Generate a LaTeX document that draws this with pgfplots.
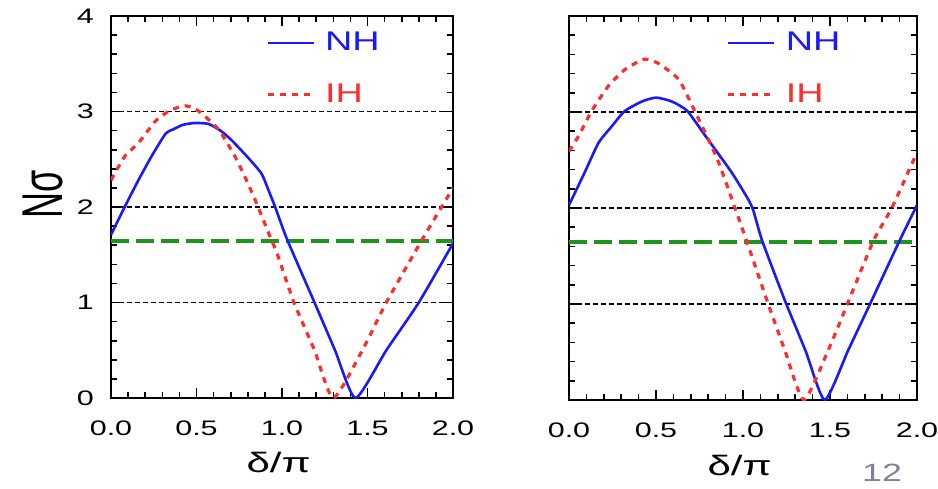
\documentclass[border=0pt]{standalone}
\usepackage{pgfplots}
\pgfplotsset{compat=1.18}
\usepackage{graphicx}
\usepackage{fontspec}
\setmainfont{Liberation Sans}
\definecolor{nhblue}{RGB}{25,25,255}
\definecolor{ihred}{RGB}{255,45,45}
\definecolor{cgreen}{RGB}{30,150,30}
\definecolor{slidegray}{RGB}{130,130,150}

\pgfplotstableread{
x y
0 1.71
0.08 2.0
0.16 2.28
0.24 2.54
0.32 2.77
0.36 2.81
0.42 2.86
0.49 2.88
0.57 2.87
0.64 2.80
0.705 2.70
0.80 2.52
0.88 2.35
0.92 2.18
0.96 2.0
1.03 1.66
1.19 1.0
1.31 0.5
1.43 0.0
1.61 0.5
1.80 1.0
2.0 1.62
}\leftNH

\pgfplotstableread{
x y
0 2.28
0.08 2.53
0.16 2.67
0.26 2.90
0.335 3.0
0.42 3.06
0.48 3.04
0.53 2.98
0.63 2.81
0.725 2.53
0.80 2.25
0.86 2.0
0.93 1.69
0.97 1.52
1.07 1.0
1.19 0.5
1.30 0.0
1.47 0.5
1.61 1.0
1.82 1.66
2.0 2.2
}\leftIH

\pgfplotstableread{
x y
0 2.03
0.09 2.37
0.17 2.68
0.25 2.86
0.32 3.01
0.42 3.11
0.50 3.15
0.59 3.11
0.68 3.01
0.80 2.71
0.935 2.37
1.03 2.09
1.06 1.97
1.11 1.66
1.24 1.04
1.36 0.51
1.47 0.0
1.605 0.52
1.73 1.0
1.90 1.66
2.0 2.03
}\rightNH

\pgfplotstableread{
x y
0 2.59
0.055 2.75
0.13 3.01
0.226 3.27
0.32 3.44
0.43 3.55
0.51 3.51
0.63 3.34
0.72 3.02
0.85 2.52
0.95 2.02
1.02 1.66
1.145 1.0
1.24 0.52
1.35 0.0
1.49 0.52
1.60 1.0
1.75 1.66
1.855 2.0
2.0 2.58
}\rightIH

\pgfplotsset{
  panel/.style={
    scale only axis, anchor=south west,
    xmin=0, xmax=2, ymin=0, ymax=4,
    xtick={0,0.5,1,1.5,2}, ytick={0,1,2,3,4},
    minor x tick num=4, minor y tick num=4,
    tick align=inside,
    major tick length=5pt, minor tick length=3pt,
    axis line style={line width=1pt},
    every tick/.append style={black, line width=0.8pt},
    ymajorgrids,
    major grid style={black, line width=0.75pt, dash pattern=on 2.5pt off 1.5pt},
    /pgf/number format/assume math mode=true,
    xticklabel={\scalebox{1.45}[1]{\pgfmathprintnumber[fixed,fixed zerofill,precision=1]{\tick}}},
    xticklabel style={font=\fontsize{10.5}{12}\selectfont, yshift=-8pt},
    yticklabel style={font=\fontsize{10.5}{12}\selectfont, xshift=-5pt},
    xlabel={\scalebox{1.5}[1]{δ/π}},
    xlabel style={font=\fontsize{14}{16}\selectfont, at={(axis description cs:0.49,-0.17)}, anchor=center},
    legend style={at={(axis description cs:0.452,0.969)}, anchor=north west, draw=none, fill=none,
      font=\fontsize{13.5}{15}\selectfont, row sep=11pt, inner sep=0pt},
    legend cell align=left,
    legend image code/.code={\draw[##1] (0pt,0pt) -- (23pt,0pt);},
  },
  nh/.style={nhblue, line width=1.3pt, smooth, tension=0.35},
  ih/.style={ihred, line width=1.6pt, dash pattern=on 3pt off 3pt, smooth, tension=0.35},
  gl/.style={cgreen, line width=2.3pt, dash pattern=on 9pt off 3.5pt, forget plot},
}

\begin{document}
\begin{tikzpicture}
\path[use as bounding box] (0,0) rectangle (469pt,244pt);

\begin{axis}[panel, at={(55.5pt,45pt)}, width=171pt, height=191pt,
  yticklabel={\scalebox{1.45}[1]{\pgfmathprintnumber{\tick}}},
  ylabel={\scalebox{1}[1.6]{Nσ}},
  ylabel style={font=\fontsize{18}{20}\selectfont, at={(axis description cs:-0.2,0.534)}, anchor=center}]
\addplot[gl] coordinates {(0,1.645) (2,1.645)};
\addplot[nh] table[x=x,y=y] {\leftNH};
\addlegendentry{\hspace{3pt}\textcolor{nhblue}{\scalebox{1.4}[1]{NH}}}
\addplot[ih] table[x=x,y=y] {\leftIH};
\addlegendentry{\hspace{3pt}\textcolor{ihred}{\scalebox{1.4}[1]{IH}}}
\end{axis}

\begin{axis}[panel, at={(284.5pt,44pt)}, width=174pt, height=192pt,
  yticklabels={}]
\addplot[gl] coordinates {(0,1.645) (2,1.645)};
\addplot[nh] table[x=x,y=y] {\rightNH};
\addlegendentry{\hspace{3pt}\textcolor{nhblue}{\scalebox{1.4}[1]{NH}}}
\addplot[ih] table[x=x,y=y] {\rightIH};
\addlegendentry{\hspace{3pt}\textcolor{ihred}{\scalebox{1.4}[1]{IH}}}
\end{axis}

\node[text=slidegray, font=\fontsize{12.5}{14}\selectfont] at (441pt,7.5pt) {\scalebox{1.43}[1]{12}};
\end{tikzpicture}
\end{document}
